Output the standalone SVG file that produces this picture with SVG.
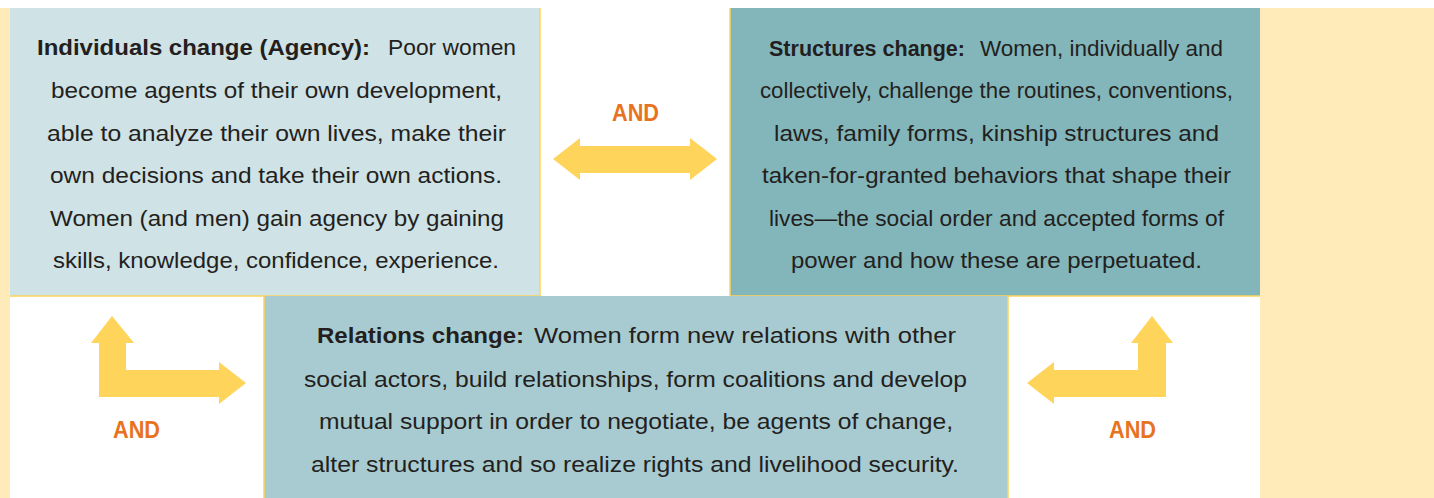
<svg xmlns="http://www.w3.org/2000/svg" width="1434" height="498" viewBox="0 0 1434 498">
  <style>
    .txt { font-family: "Liberation Sans", Arial, sans-serif; font-size: 22px; fill: #231F20; }
    .b { font-weight: bold; }
    .and { font-family: "Liberation Sans", Arial, sans-serif; font-size: 24px; font-weight: bold; fill: #E8731F; }
    .arrow { fill: #FFD45A; }
    .edge { stroke: #FFD45A; stroke-width: 1.5; fill: none; }
  </style>

  <!-- page background and side margins -->
  <rect x="0" y="0" width="1434" height="498" fill="#FFFFFF"/>
  <rect x="0" y="8" width="10" height="490" fill="#FFEBB9"/>
  <rect x="1260" y="8" width="174" height="490" fill="#FFEBB9"/>

  <!-- Individuals change -->
  <g id="individuals">
    <rect x="10" y="8" width="530" height="288" fill="#CFE2E5"/>
    <path class="edge" d="M540,8 V296 H10"/>
    <text class="txt">
      <tspan class="b" x="37" y="55" textLength="333" lengthAdjust="spacingAndGlyphs">Individuals change (Agency):</tspan>
      <tspan x="388" y="55" textLength="128" lengthAdjust="spacingAndGlyphs">Poor women</tspan>
    </text>
    <text class="txt" x="51" y="98" textLength="451" lengthAdjust="spacingAndGlyphs">become agents of their own development,</text>
    <text class="txt" x="47" y="141" textLength="459" lengthAdjust="spacingAndGlyphs">able to analyze their own lives, make their</text>
    <text class="txt" x="50" y="183" textLength="452" lengthAdjust="spacingAndGlyphs">own decisions and take their own actions.</text>
    <text class="txt" x="50" y="226" textLength="454" lengthAdjust="spacingAndGlyphs">Women (and men) gain agency by gaining</text>
    <text class="txt" x="53" y="268" textLength="446" lengthAdjust="spacingAndGlyphs">skills, knowledge, confidence, experience.</text>
  </g>

  <!-- Structures change -->
  <g id="structures">
    <rect x="730" y="8" width="530" height="288" fill="#82B6BB"/>
    <path class="edge" d="M730,8 V296 H1260"/>
    <text class="txt">
      <tspan class="b" x="769" y="56" textLength="196" lengthAdjust="spacingAndGlyphs">Structures change:</tspan>
      <tspan x="980" y="56" textLength="243" lengthAdjust="spacingAndGlyphs">Women, individually and</tspan>
    </text>
    <text class="txt" x="760" y="98" textLength="473" lengthAdjust="spacingAndGlyphs">collectively, challenge the routines, conventions,</text>
    <text class="txt" x="774" y="141" textLength="445" lengthAdjust="spacingAndGlyphs">laws, family forms, kinship structures and</text>
    <text class="txt" x="762" y="183" textLength="469" lengthAdjust="spacingAndGlyphs">taken-for-granted behaviors that shape their</text>
    <text class="txt" x="769" y="226" textLength="455" lengthAdjust="spacingAndGlyphs">lives—the social order and accepted forms of</text>
    <text class="txt" x="791" y="268" textLength="411" lengthAdjust="spacingAndGlyphs">power and how these are perpetuated.</text>
  </g>

  <!-- Relations change -->
  <g id="relations">
    <rect x="264" y="296" width="744" height="202" fill="#A8CBD1"/>
    <path class="edge" d="M264,498 V296 M1008,296 V498"/>
    <text class="txt">
      <tspan class="b" x="317" y="343" textLength="207" lengthAdjust="spacingAndGlyphs">Relations change:</tspan>
      <tspan x="534" y="343" textLength="422" lengthAdjust="spacingAndGlyphs">Women form new relations with other</tspan>
    </text>
    <text class="txt" x="304" y="387" textLength="663" lengthAdjust="spacingAndGlyphs">social actors, build relationships, form coalitions and develop</text>
    <text class="txt" x="319" y="429" textLength="634" lengthAdjust="spacingAndGlyphs">mutual support in order to negotiate, be agents of change,</text>
    <text class="txt" x="311" y="472" textLength="648" lengthAdjust="spacingAndGlyphs">alter structures and so realize rights and livelihood security.</text>
  </g>

  <!-- connectors -->
  <g id="connectors">
    <!-- individuals <-> structures -->
    <path class="arrow" d="M553,159 L580,138 L580,146 L690,146 L690,138 L717,159 L690,180 L690,173 L580,173 L580,180 Z"/>
    <text class="and" x="612" y="121" textLength="47" lengthAdjust="spacingAndGlyphs">AND</text>

    <!-- individuals <-> relations -->
    <path class="arrow" d="M112,316 L134,343 L126,343 L126,370 L219,370 L219,362 L246,383 L219,404 L219,397 L99,397 L99,343 L91,343 Z"/>
    <text class="and" x="113" y="438" textLength="47" lengthAdjust="spacingAndGlyphs">AND</text>

    <!-- structures <-> relations -->
    <path class="arrow" d="M1152,316 L1173,343 L1166,343 L1166,397 L1054,397 L1054,404 L1027,383 L1054,362 L1054,370 L1138,370 L1138,343 L1131,343 Z"/>
    <text class="and" x="1109" y="438" textLength="47" lengthAdjust="spacingAndGlyphs">AND</text>
  </g>
</svg>
